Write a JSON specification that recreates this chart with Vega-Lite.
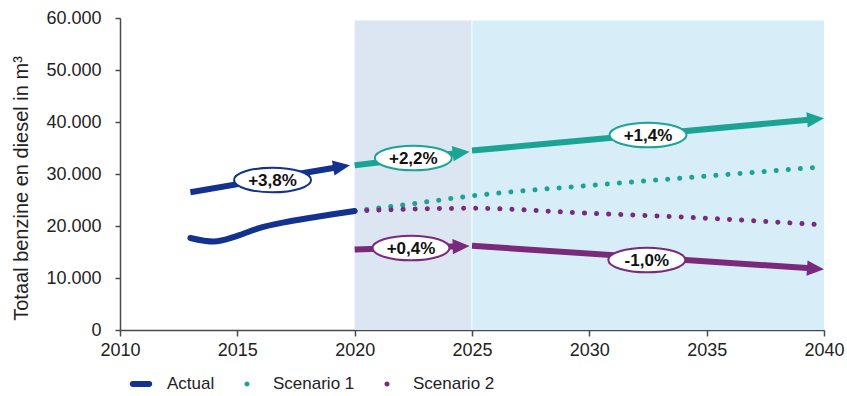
{
  "$schema": "https://vega.github.io/schema/vega-lite/v6.json",
  "width": 704,
  "height": 312,
  "autosize": "none",
  "padding": {"left": 120, "top": 18, "right": 23, "bottom": 66},
  "background": "white",
  "config": {
    "view": {"stroke": null},
    "font": "Liberation Sans"
  },
  "datasets": {
    "shade": [
      {"period": "2020-2025", "year": 2020, "end": 2025, "value": 59500, "base": 0},
      {"period": "2025-2040", "year": 2025, "end": 2040, "value": 59500, "base": 0}
    ],
    "divider": [
      {"year": 2025, "value": 59500, "base": 0}
    ],
    "actual": [
      {"year": 2013, "value": 17700},
      {"year": 2014, "value": 17000},
      {"year": 2015, "value": 18100},
      {"year": 2016, "value": 19700},
      {"year": 2017, "value": 20700},
      {"year": 2018, "value": 21500},
      {"year": 2019, "value": 22200},
      {"year": 2020, "value": 22900}
    ],
    "projection": [
      {"series": "Scenario 1", "year": 2020, "value": 22900},
      {"series": "Scenario 1", "year": 2022, "value": 24000},
      {"series": "Scenario 1", "year": 2025, "value": 25800},
      {"series": "Scenario 1", "year": 2030, "value": 27800},
      {"series": "Scenario 1", "year": 2035, "value": 29600},
      {"series": "Scenario 1", "year": 2040, "value": 31400},
      {"series": "Scenario 2", "year": 2020, "value": 22900},
      {"series": "Scenario 2", "year": 2022, "value": 23200},
      {"series": "Scenario 2", "year": 2025, "value": 23400},
      {"series": "Scenario 2", "year": 2030, "value": 22450},
      {"series": "Scenario 2", "year": 2035, "value": 21500},
      {"series": "Scenario 2", "year": 2040, "value": 20200}
    ],
    "trend": [
      {"segment": "A", "series": "Actual", "year": 2013, "value": 26500},
      {"segment": "A", "series": "Actual", "year": 2019.4, "value": 31400},
      {"segment": "S1a", "series": "Scenario 1", "year": 2020, "value": 31700},
      {"segment": "S1a", "series": "Scenario 1", "year": 2024.5, "value": 34100},
      {"segment": "S1b", "series": "Scenario 1", "year": 2025, "value": 34500},
      {"segment": "S1b", "series": "Scenario 1", "year": 2039.6, "value": 40530},
      {"segment": "S2a", "series": "Scenario 2", "year": 2020, "value": 15500},
      {"segment": "S2a", "series": "Scenario 2", "year": 2024.5, "value": 16100},
      {"segment": "S2b", "series": "Scenario 2", "year": 2025, "value": 16200},
      {"segment": "S2b", "series": "Scenario 2", "year": 2039.6, "value": 11820}
    ],
    "heads": [
      {"segment": "A", "series": "Actual", "year": 2019.8, "value": 31700},
      {"segment": "S1a", "series": "Scenario 1", "year": 2024.9, "value": 34300},
      {"segment": "S1b", "series": "Scenario 1", "year": 2040, "value": 40700},
      {"segment": "S2a", "series": "Scenario 2", "year": 2024.9, "value": 16150},
      {"segment": "S2b", "series": "Scenario 2", "year": 2040, "value": 11700}
    ],
    "labels": [
      {"segment": "A", "series": "Actual", "year": 2016.5, "value": 28850, "label": "+3,8%"},
      {"segment": "S1a", "series": "Scenario 1", "year": 2022.5, "value": 33080, "label": "+2,2%"},
      {"segment": "S1b", "series": "Scenario 1", "year": 2032.5, "value": 37500, "label": "+1,4%"},
      {"segment": "S2a", "series": "Scenario 2", "year": 2022.4, "value": 15770, "label": "+0,4%"},
      {"segment": "S2b", "series": "Scenario 2", "year": 2032.45, "value": 13460, "label": "-1,0%"}
    ],
    "legendentries": [
      {"series": "Actual"},
      {"series": "Scenario 1"},
      {"series": "Scenario 2"}
    ]
  },
  "encoding": {
    "x": {
      "field": "year",
      "type": "quantitative",
      "scale": {"domain": [2010, 2040], "nice": false, "zero": false},
      "axis": {
        "values": [2010, 2015, 2020, 2025, 2030, 2035, 2040],
        "format": "d",
        "title": null,
        "grid": false,
        "labelPadding": 5,
        "labelFlush": false,
        "labelFont": "Liberation Sans",
        "labelFontSize": 18,
        "labelColor": "#222222",
        "domainColor": "#4a4a4a",
        "domainWidth": 1.5,
        "tickColor": "#4a4a4a",
        "tickWidth": 1.5,
        "tickSize": 6
      }
    },
    "y": {
      "field": "value",
      "type": "quantitative",
      "scale": {"domain": [0, 60000], "nice": false},
      "axis": {
        "values": [0, 10000, 20000, 30000, 40000, 50000, 60000],
        "labelExpr": "replace(format(datum.value, ','), ',', '.')",
        "title": "Totaal benzine en diesel in m³",
        "titleFont": "Liberation Sans",
        "titleFontSize": 20,
        "titleFontWeight": "normal",
        "titleColor": "#222222",
        "titlePadding": 14,
        "titleY": 170,
        "grid": false,
        "labelPadding": 14,
        "labelFont": "Liberation Sans",
        "labelFontSize": 18,
        "labelColor": "#222222",
        "domainColor": "#4a4a4a",
        "domainWidth": 1.5,
        "tickColor": "#4a4a4a",
        "tickWidth": 1.5,
        "tickSize": 5
      }
    }
  },
  "layer": [
    {
      "data": {"name": "shade"},
      "mark": {"type": "rect"},
      "encoding": {
        "x2": {"field": "end"},
        "y2": {"field": "base"},
        "fill": {
          "field": "period",
          "type": "nominal",
          "scale": {"domain": ["2020-2025", "2025-2040"], "range": ["#dce6f3", "#d7edf8"]},
          "legend": null
        }
      }
    },
    {
      "data": {"name": "divider"},
      "mark": {"type": "rule", "color": "#e8f4fb", "strokeWidth": 2},
      "encoding": {
        "y2": {"field": "base"}
      }
    },
    {
      "data": {"name": "projection"},
      "mark": {"type": "line", "strokeWidth": 5, "strokeDash": [0.1, 12], "strokeCap": "round", "interpolate": "monotone"},
      "encoding": {
        "stroke": {
          "field": "series",
          "type": "nominal",
          "scale": {"domain": ["Scenario 1", "Scenario 2", "Actual"], "range": ["#1ba493", "#7a2a7b", "#13318f"]},
          "legend": null
        }
      }
    },
    {
      "data": {"name": "actual"},
      "mark": {"type": "line", "strokeWidth": 6, "strokeCap": "round", "interpolate": "monotone", "color": "#13318f"},
      "encoding": {}
    },
    {
      "data": {"name": "trend"},
      "mark": {"type": "line", "strokeWidth": 6, "strokeCap": "butt"},
      "encoding": {
        "detail": {"field": "segment"},
        "stroke": {
          "field": "series",
          "type": "nominal",
          "scale": {"domain": ["Scenario 1", "Scenario 2", "Actual"], "range": ["#1ba493", "#7a2a7b", "#13318f"]},
          "legend": null
        }
      }
    },
    {
      "data": {"name": "heads"},
      "transform": [{"filter": "datum.segment == 'A'"}],
      "mark": {"type": "point", "filled": true, "opacity": 1, "shape": "M 0 0 L -1 -0.45 L -1 0.45 Z", "size": 1156, "angle": 350.4, "color": "#13318f"},
      "encoding": {}
    },
    {
      "data": {"name": "heads"},
      "transform": [{"filter": "datum.segment == 'S1a'"}],
      "mark": {"type": "point", "filled": true, "opacity": 1, "shape": "M 0 0 L -1 -0.45 L -1 0.45 Z", "size": 1156, "angle": 353.3, "color": "#1ba493"},
      "encoding": {}
    },
    {
      "data": {"name": "heads"},
      "transform": [{"filter": "datum.segment == 'S1b'"}],
      "mark": {"type": "point", "filled": true, "opacity": 1, "shape": "M 0 0 L -1 -0.45 L -1 0.45 Z", "size": 1156, "angle": 354.8, "color": "#1ba493"},
      "encoding": {}
    },
    {
      "data": {"name": "heads"},
      "transform": [{"filter": "datum.segment == 'S2a'"}],
      "mark": {"type": "point", "filled": true, "opacity": 1, "shape": "M 0 0 L -1 -0.45 L -1 0.45 Z", "size": 1156, "angle": 358.3, "color": "#7a2a7b"},
      "encoding": {}
    },
    {
      "data": {"name": "heads"},
      "transform": [{"filter": "datum.segment == 'S2b'"}],
      "mark": {"type": "point", "filled": true, "opacity": 1, "shape": "M 0 0 L -1 -0.45 L -1 0.45 Z", "size": 1156, "angle": 3.8, "color": "#7a2a7b"},
      "encoding": {}
    },
    {
      "data": {"name": "labels"},
      "mark": {"type": "point", "filled": false, "fill": "white", "fillOpacity": 1, "opacity": 1, "strokeWidth": 2, "shape": "M -1 0 A 1 0.32 0 1 1 1 0 A 1 0.32 0 1 1 -1 0 Z", "size": 5929},
      "encoding": {
        "stroke": {
          "field": "series",
          "type": "nominal",
          "scale": {"domain": ["Scenario 1", "Scenario 2", "Actual"], "range": ["#1ba493", "#7a2a7b", "#13318f"]},
          "legend": null
        }
      }
    },
    {
      "data": {"name": "labels"},
      "mark": {"type": "text", "font": "Liberation Sans", "fontSize": 17, "fontWeight": "bold", "color": "#111111", "align": "center", "baseline": "middle", "dy": 1},
      "encoding": {"text": {"field": "label"}}
    },
    {
      "data": {"name": "legendentries"},
      "mark": {"type": "point", "filled": true, "opacity": 1},
      "encoding": {
        "color": {
          "field": "series",
          "type": "nominal",
          "scale": {"domain": ["Actual", "Scenario 1", "Scenario 2"], "range": ["#13318f", "#1ba493", "#7a2a7b"]},
          "legend": {
            "orient": "none",
            "legendX": 10,
            "legendY": 355,
            "direction": "horizontal",
            "title": null,
            "symbolSize": 484,
            "symbolOpacity": 1,
            "symbolStrokeWidth": 0,
            "labelFont": "Liberation Sans",
            "labelFontSize": 17,
            "labelColor": "#222222",
            "labelOffset": 15,
            "columnPadding": 21,
            "padding": 0
          }
        },
        "shape": {
          "field": "series",
          "type": "nominal",
          "scale": {
            "domain": ["Actual", "Scenario 1", "Scenario 2"],
            "range": [
              "M -0.75 -0.27 L 0.75 -0.27 A 0.27 0.27 0 0 1 0.75 0.27 L -0.75 0.27 A 0.27 0.27 0 0 1 -0.75 -0.27 Z",
              "M -0.23 0 A 0.23 0.23 0 1 1 0.23 0 A 0.23 0.23 0 1 1 -0.23 0 Z",
              "M -0.23 0 A 0.23 0.23 0 1 1 0.23 0 A 0.23 0.23 0 1 1 -0.23 0 Z"
            ]
          }
        }
      }
    }
  ]
}
